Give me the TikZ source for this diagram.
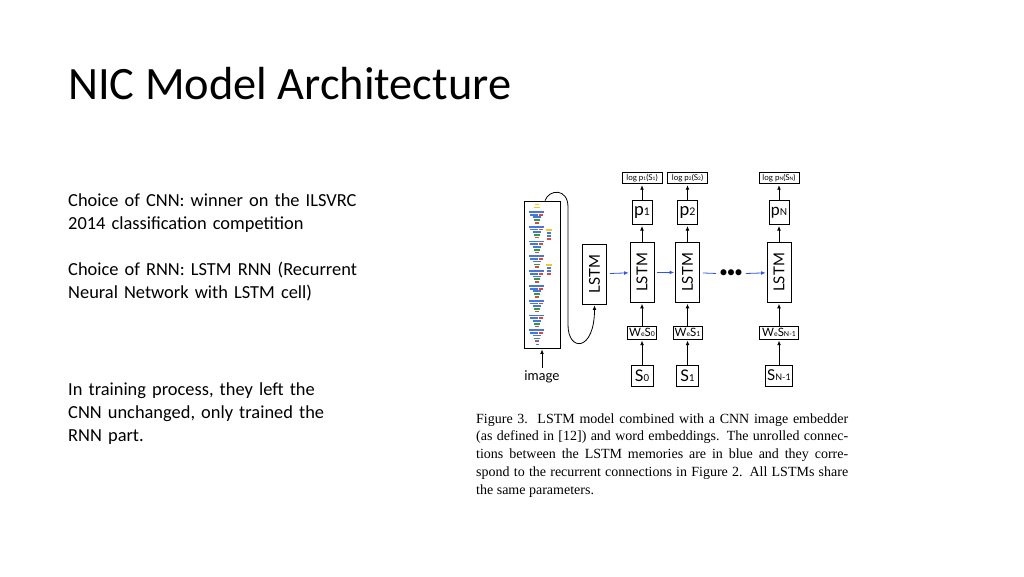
\documentclass[tikz,border=0pt]{standalone}
\usepackage{fontspec}
\setmainfont{Carlito}
\newfontfamily\gill{Lato}
\newfontfamily\capfont{Liberation Serif}
\usetikzlibrary{positioning,arrows.meta}
\definecolor{recblue}{RGB}{45,85,235}
\definecolor{netblue}{RGB}{70,120,220}
\definecolor{netgreen}{RGB}{40,160,70}
\definecolor{netred}{RGB}{220,70,60}
\definecolor{netyellow}{RGB}{240,200,40}
\newcommand\lowidx[1]{{\fontsize{0.6em}{0.6em}\selectfont #1}}

\begin{document}
\begin{tikzpicture}[x=1pt,y=-1pt,node distance=1em,
  box/.style={draw,line width=0.8pt,inner sep=0pt,font=\gill},
  lstmbox/.style={box,minimum width=24pt,minimum height=60pt,font=\gill\fontsize{15}{15}\selectfont},
  pbox/.style={box,minimum width=20pt,minimum height=24pt,font=\gill\fontsize{17.5}{17.5}\selectfont},
  logbox/.style={box,minimum width=40pt,minimum height=11pt,font=\gill\fontsize{8}{8}\selectfont},
  wbox/.style={box,minimum width=29pt,minimum height=13pt,font=\gill\fontsize{11.5}{11.5}\selectfont},
  sbox/.style={box,minimum width=22pt,minimum height=21pt,font=\gill\fontsize{16}{16}\selectfont},
  up/.style={-{Latex[length=4.5pt,width=3.8pt]},line width=0.8pt,shorten >=1pt},
  rec/.style={up,draw=recblue,shorten <=3pt},
  slidetext/.style={anchor=base west,inner sep=0pt,text width=310pt,align=left,font=\fontsize{18.4}{23}\selectfont}]
  \fill[white] (0,0) rectangle (1024,576);
  \useasboundingbox (0,0) rectangle (1024,576);

  \node(title)[anchor=base west,inner sep=0pt,font=\fontsize{46.4}{46}\selectfont] at (68,99) {NIC Model Architecture};
  \node(cnntxt)[slidetext] at (68,206.7) {Choice of CNN: winner on the ILSVRC\\2014 classification competition};
  \node(rnntxt)[slidetext] at (68,275.7) {Choice of RNN: LSTM RNN (Recurrent\\Neural Network with LSTM cell)};
  \node(traintxt)[slidetext] at (68,395) {In training process, they left the\\CNN unchanged, only trained the\\RNN part.};

  % image embedder
  \node(cnn)[box,minimum width=36pt,minimum height=147pt] at (542,274.5) {};
  \node(img)[font=\gill\fontsize{13.5}{13.5}\selectfont,inner sep=1pt] at (542,377) {image};
  \fill[netyellow] (535,203.5) rectangle +(4,1.8);
  \fill[netyellow] (534,206.5) rectangle +(6,1.8);
  \foreach \k in {0,...,8}{
    \pgfmathsetmacro\yy{211+\k*14.8}
    \fill[netblue] (529,\yy) rectangle +(15,1.8);
    \fill[netblue] (530,\yy+2.7) rectangle +(8,1.8);
    \fill[netred] (539,\yy+2.7) rectangle +(4,1.8);
    \fill[netblue] (533,\yy+5.4) rectangle +(8,1.6);
    \fill[netgreen] (534,\yy+8.2) rectangle +(6,1.8);
    \fill[netred] (535,\yy+11) rectangle +(4,1.6);
  }
  \foreach \sy in {229,264}{
    \fill[netyellow] (546,\sy) rectangle +(6,1.8);
    \fill[netblue] (547,\sy+3) rectangle +(4,1.6);
    \fill[netblue] (547,\sy+6) rectangle +(4,1.6);
    \fill[netred] (547,\sy+9) rectangle +(4,1.6);
  }
  \foreach \yy in {338,341,344}
    \fill[netblue] (536,\yy) rectangle +(3,1.4);

  \node(l0)[lstmbox] at (594.5,274) {\rotatebox{90}{LSTM}};

  % unrolled columns
  \node(s0)[sbox] at (642,375.5) {S\lowidx{0}};
  \node(w0)[wbox,above=25pt of s0] {W\lowidx{e}S\lowidx{0}};
  \node(l1)[lstmbox,above=23pt of w0] {\rotatebox{90}{LSTM}};
  \node(p1)[pbox,above=17pt of l1] {p\lowidx{1}};
  \node(g1)[logbox,above=16pt of p1] {log p\lowidx{1}(S\lowidx{1})};

  \node(s1)[sbox] at (687.5,375.5) {S\lowidx{1}};
  \node(w1)[wbox,above=25pt of s1] {W\lowidx{e}S\lowidx{1}};
  \node(l2)[lstmbox,above=23pt of w1] {\rotatebox{90}{LSTM}};
  \node(p2)[pbox,above=17pt of l2] {p\lowidx{2}};
  \node(g2)[logbox,above=16pt of p2] {log p\lowidx{2}(S\lowidx{2})};

  \node(sN)[sbox,minimum width=27pt,font=\gill\fontsize{15}{15}\selectfont] at (779,375.5) {S\lowidx{N-1}};
  \node(wN)[wbox,minimum width=39pt,above=25pt of sN] {W\lowidx{e}S\lowidx{N-1}};
  \node(lN)[lstmbox,above=23pt of wN] {\rotatebox{90}{LSTM}};
  \node(pN)[pbox,above=17pt of lN,font=\gill\fontsize{16}{16}\selectfont] {p\lowidx{N}};
  \node(gN)[logbox,above=16pt of pN] {log p\lowidx{N}(S\lowidx{N})};

  \node(dots)[inner sep=0pt,font=\fontsize{17}{17}\selectfont] at (731,274) {\textbullet\kern-1pt\textbullet\kern-1pt\textbullet};

  \draw[up,shorten <=2pt] (img) -- (cnn);
  \draw[up] ([xshift=3pt]cnn.north) .. controls (549,189) and (568,188) .. (568,207)
    -- (568,325) .. controls (568,352) and (594.5,352) .. (l0.south);
  \foreach \a/\b in {s0/w0,w0/l1,l1/p1,p1/g1,s1/w1,w1/l2,l2/p2,p2/g2,sN/wN,wN/lN,lN/pN,pN/gN}
    \draw[up] (\a) -- (\b);
  \draw[rec] (l0) -- (l1);
  \draw[rec] (l1) -- (l2);
  \draw[recblue,line width=0.8pt,shorten <=3pt,shorten >=3pt] (l2) -- (dots);
  \draw[rec] (dots) -- (lN);

  \node(caption)[anchor=base west,inner sep=0pt,text width=372pt,align=justify,
    font=\capfont\fontsize{14}{17.8}\selectfont] at (476,423)
    {Figure 3.\ \ LSTM model combined with a CNN image embedder\linebreak
     (as defined in [12]) and word embeddings. The unrolled connec-\linebreak
     tions between the LSTM memories are in blue and they corre-\linebreak
     spond to the recurrent connections in Figure 2. All LSTMs share\linebreak
     the same parameters.};
\end{tikzpicture}
\end{document}
